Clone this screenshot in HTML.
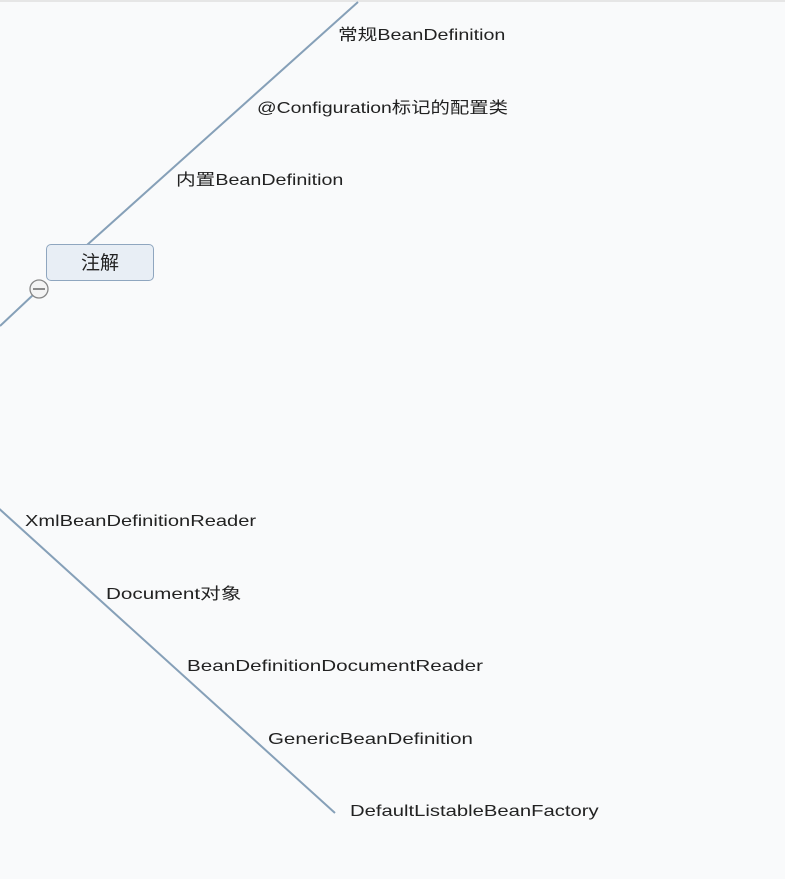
<!DOCTYPE html>
<html><head><meta charset="utf-8"><style>
html,body{margin:0;padding:0;}
body{width:785px;height:879px;background:#f9fafb;position:relative;overflow:hidden;font-family:"Liberation Sans","Noto Sans CJK SC",sans-serif;color:#222;}
.t{position:absolute;font-size:16px;white-space:nowrap;line-height:20px;transform-origin:0 0;}
.box{position:absolute;left:46px;top:244px;width:108px;height:37px;border:1px solid #8fa6bf;border-radius:5px;background:#e8eef5;font-size:19px;text-align:center;line-height:37px;box-sizing:border-box;}
</style></head><body>
<div style="position:absolute;left:0;top:0;width:785px;height:2px;background:#e6e6e6"></div>
<svg width="785" height="879" style="position:absolute;left:0;top:0">
<line x1="358" y1="2" x2="87" y2="245" stroke="#86a0b8" stroke-width="2"/>
<line x1="0" y1="326" x2="33" y2="295" stroke="#86a0b8" stroke-width="2"/>
<line x1="-5" y1="505" x2="335" y2="813" stroke="#86a0b8" stroke-width="2"/>
<circle cx="39" cy="289" r="9" fill="#f4f4f4" stroke="#888" stroke-width="1.3"/>
<line x1="33" y1="289" x2="45" y2="289" stroke="#555" stroke-width="1.3"/>
</svg>
<div class="box">注解</div>
<div class="t" style="left:338px;top:26px;transform:scaleX(1.23)">常规BeanDefinition</div>
<div class="t" style="left:257px;top:99px;transform:scaleX(1.21)">@Configuration标记的配置类</div>
<div class="t" style="left:176px;top:171px;transform:scaleX(1.23)">内置BeanDefinition</div>
<div class="t" style="left:25px;top:512px;transform:scaleX(1.255)">XmlBeanDefinitionReader</div>
<div class="t" style="left:106px;top:585px;transform:scaleX(1.29)">Document对象</div>
<div class="t" style="left:187px;top:657px;transform:scaleX(1.29)">BeanDefinitionDocumentReader</div>
<div class="t" style="left:268px;top:730px;transform:scaleX(1.28)">GenericBeanDefinition</div>
<div class="t" style="left:350px;top:802px;transform:scaleX(1.265)">DefaultListableBeanFactory</div>
</body></html>
